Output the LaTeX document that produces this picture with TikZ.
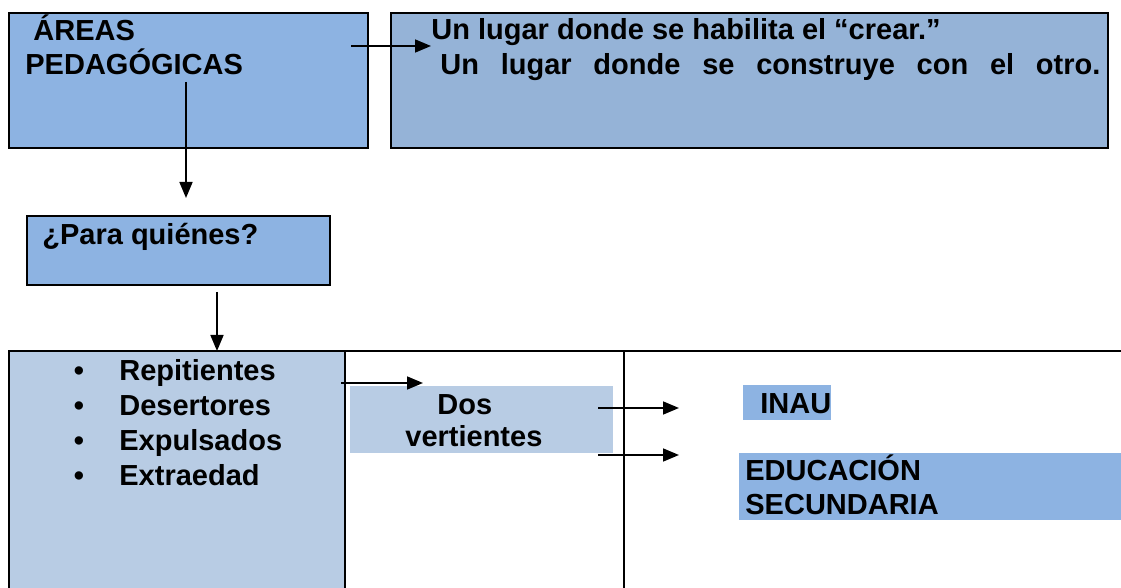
\documentclass[tikz,border=0pt]{standalone}
\usepackage{fontspec}
\setmainfont{Liberation Sans}
\usetikzlibrary{fit,arrows.meta}
\definecolor{bluA}{HTML}{8DB3E2}
\definecolor{bluB}{HTML}{95B3D7}
\definecolor{bluC}{HTML}{B8CCE4}
\tikzset{
  boxA/.style={draw=black,line width=1pt,fill=bluA,inner sep=0pt},
  boxB/.style={draw=black,line width=1pt,fill=bluB,inner sep=0pt},
  bgfill/.style={fill=#1,inner sep=0pt},
  txt/.style={anchor=base west,inner sep=0pt,font=\fontsize{14.5}{17}\selectfont\bfseries},
  bul/.style={anchor=base,inner sep=0pt,font=\fontsize{14.5}{17}\selectfont\bfseries},
  arr/.style={line width=0.85pt,-{Triangle[length=8pt,width=6.5pt]}},
  rule/.style={line width=1pt}
}
\begin{document}
\begin{tikzpicture}[x=0.5pt,y=-0.5pt]
\useasboundingbox (0,0) rectangle (1121,588);
% top boxes
\node[boxA,fit={(9,13) (368,148)}] (areas) {};
\node[boxB,fit={(391,13) (1108,148)}] (lugar) {};
\node[txt] (t1) at (33,41) {ÁREAS};
\node[txt] (t2) at (25,75) {PEDAGÓGICAS};
\node[txt] (l1) at (431,40) {Un lugar donde se habilita el “crear.”};
\node[txt] (l2) at (440,75) {\makebox[330pt][s]{Un lugar donde se construye con el otro.}};
\coordinate (a1s) at (351,46);
\coordinate (a1e) at (431,46);
\draw[arr] (a1s) -- (a1e);
\coordinate (a2s) at (186,82);
\coordinate (a2e) at (186,198);
\draw[arr] (a2s) -- (a2e);
% para quienes
\node[boxA,fit={(27,216) (330,285)}] (para) {};
\node[txt] (pq) at (42,245) {¿Para quiénes?};
\coordinate (a3s) at (217,292);
\coordinate (a3e) at (217,351);
\draw[arr] (a3s) -- (a3e);
% bottom table
\node[bgfill=bluC,fit={(9,351) (345,590)}] (list) {};
\draw[rule] (9,590) -- (9,351) -- (1121,351);
\draw[rule] (345,351) -- (345,590);
\draw[rule] (624,351) -- (624,590);
\foreach \y/\w [count=\i] in {381/Repitientes,416/Desertores,451/Expulsados,486/Extraedad}{
  \node[bul] (b\i) at (79,\y) {•};
  \node[txt] (i\i) at (119,\y) {\w};
}
\node[bgfill=bluC,fit={(350,386) (613,453)}] (dos) {};
\node[txt] (d1) at (437,415) {Dos};
\node[txt] (d2) at (405,447) {vertientes};
\coordinate (a4s) at (341,383);
\coordinate (a4e) at (423,383);
\draw[arr] (a4s) -- (a4e);
\coordinate (a5s) at (598,408);
\coordinate (a5e) at (679,408);
\draw[arr] (a5s) -- (a5e);
\coordinate (a6s) at (598,455);
\coordinate (a6e) at (679,455);
\draw[arr] (a6s) -- (a6e);
\node[bgfill=bluA,fit={(743,385) (831,420)}] (inau) {};
\node[txt] (inaut) at (760,414) {INAU};
\node[bgfill=bluA,fit={(739,453) (1121,520)}] (edu) {};
\node[txt] (e1) at (745,481) {EDUCACIÓN};
\node[txt] (e2) at (745,515) {SECUNDARIA};
\end{tikzpicture}
\end{document}
